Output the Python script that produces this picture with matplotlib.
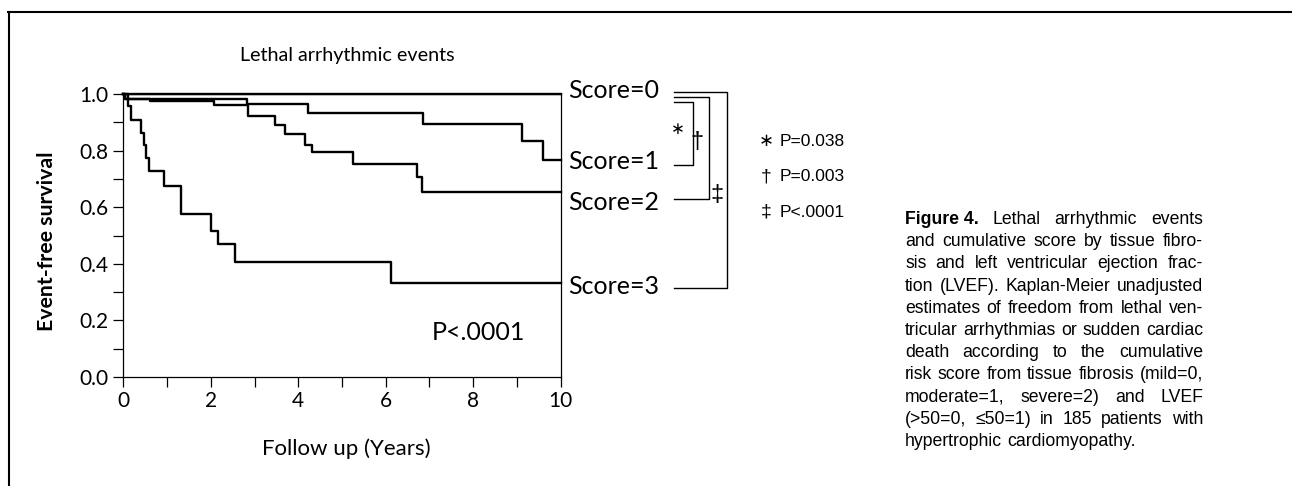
import matplotlib
matplotlib.use("Agg")
import matplotlib.pyplot as plt
from matplotlib import font_manager
from matplotlib.lines import Line2D

W, H = 1292, 486

# ==========================
# DATA
# ==========================
years_s0 = [0, 10]
surv_s0 = [1.0, 1.0]

years_s1 = [0, 0.05, 2.82, 4.23, 6.86, 9.11, 9.60, 10]
surv_s1 = [1.0, 0.983, 0.964, 0.932, 0.895, 0.833, 0.766, 0.766]

years_s2 = [0, 0.05, 0.61, 2.08, 2.86, 3.47, 3.70, 4.15, 4.31, 5.26, 6.71, 6.82, 10]
surv_s2 = [1.0, 0.983, 0.976, 0.961, 0.924, 0.891, 0.860, 0.821, 0.795, 0.751, 0.705, 0.652, 0.652]

years_s3 = [0, 0.11, 0.17, 0.40, 0.47, 0.53, 0.59, 0.93, 1.33, 2.00, 2.17, 2.55, 6.12, 10]
surv_s3 = [1.0, 0.956, 0.909, 0.862, 0.821, 0.774, 0.729, 0.674, 0.576, 0.515, 0.469, 0.407, 0.331, 0.331]

score_labels = ["Score=0", "Score=1", "Score=2", "Score=3"]
score_label_y = [0.985, 0.734, 0.59, 0.293]

pair_symbols = ["\u2217", "\u2020", "\u2021"]
pair_pvalues = ["P=0.038", "P=0.003", "P<.0001"]

caption_lines = [
    ["Figure 4.", "Lethal", "arrhythmic", "events"],
    "and cumulative score by tissue fibro-".split(),
    "sis and left ventricular ejection frac-".split(),
    "tion (LVEF). Kaplan-Meier unadjusted".split(),
    "estimates of freedom from lethal ven-".split(),
    "tricular arrhythmias or sudden cardiac".split(),
    "death according to the cumulative".split(),
    "risk score from tissue fibrosis (mild=0,".split(),
    "moderate=1, severe=2) and LVEF".split(),
    "(>50=0, \u226450=1) in 185 patients with".split(),
    "hypertrophic cardiomyopathy.".split(),
]


def has_font(name):
    try:
        font_manager.findfont(font_manager.FontProperties(family=name),
                              fallback_to_default=False)
        return True
    except ValueError:
        return False


if has_font("Liberation Sans Narrow"):
    CAP_FONT, CAP_SIZE = "Liberation Sans Narrow", 14
else:
    CAP_FONT, CAP_SIZE = "Liberation Sans", 12.7

CHART_FONT = "Lato"


def fx(px):
    return px / W


def fy(py):
    return 1 - py / H


fig = plt.figure(figsize=(W / 100, H / 100), dpi=100)

# frame of the figure panel (left + top edges)
fig.add_artist(Line2D([fx(8.5), fx(8.5)], [0, fy(12)], transform=fig.transFigure,
                      color="black", lw=1.5))
fig.add_artist(Line2D([fx(8), 1], [fy(12), fy(12)], transform=fig.transFigure,
                      color="black", lw=1.5))

ax = fig.add_axes([fx(123.3), fy(377), (560.7 - 123.3) / W, (377 - 94) / H])

for t, s in [(years_s0, surv_s0), (years_s1, surv_s1), (years_s2, surv_s2), (years_s3, surv_s3)]:
    ax.step(t, s, where="post", color="black", lw=1.7, clip_on=False)

ax.set_xlim(0, 10)
ax.set_ylim(0, 1.0)
ax.set_xticks(range(0, 11, 2))
ax.set_xticks(range(1, 10, 2), minor=True)
ax.set_yticks([0, 0.2, 0.4, 0.6, 0.8, 1.0])
ax.set_yticks([0.1, 0.3, 0.5, 0.7, 0.9], minor=True)
ax.set_yticklabels(["0.0", "0.2", "0.4", "0.6", "0.8", "1.0"])
ax.tick_params(which="both", direction="out", length=7, width=0.9, color="black")
ax.tick_params(axis="x", labelsize=15, pad=3)
ax.tick_params(axis="y", labelsize=15, pad=3.5)
for lab in ax.get_xticklabels() + ax.get_yticklabels():
    lab.set_fontfamily(CHART_FONT)
for sp in ax.spines.values():
    sp.set_linewidth(0.9)

# P value in the plot
ax.text(7.05, 0.131, "P<.0001", fontsize=18, family=CHART_FONT, va="baseline", ha="left")

# score labels at the right of the curves
for lab, yv in zip(score_labels, score_label_y):
    ax.text(10.18, yv, lab, fontsize=18, family=CHART_FONT, va="baseline", ha="left",
            clip_on=False)

# comparison brackets: (x of vertical, top y, bottom y)
bracket_x0 = 12.59
brackets = [(13.03, 0.972, 0.749), (13.39, 0.990, 0.629), (13.80, 1.008, 0.314)]
for xv, ytop, ybot in brackets:
    ax.plot([bracket_x0, xv, xv, bracket_x0], [ytop, ytop, ybot, ybot],
            color="black", lw=1.0, clip_on=False)
bracket_sym_pos = [(12.67, 0.873), (13.12, 0.83), (13.57, 0.643)]
bracket_sym_size = [12, 17, 17]
for sym, (xs, ys), fs in zip(pair_symbols, bracket_sym_pos, bracket_sym_size):
    ax.text(xs, ys, sym, fontsize=fs, family=["Liberation Sans", "DejaVu Sans"],
            ha="center", va="center", clip_on=False)

# titles / axis labels
fig.text(fx(347), fy(61), "Lethal arrhythmic events", fontsize=14.2, family=CHART_FONT,
         ha="center", va="baseline")
fig.text(fx(346), fy(455), "Follow up (Years)", fontsize=16, family=CHART_FONT,
         ha="center", va="baseline")
fig.text(fx(47), fy(241), "Event-free survival", fontsize=15.3, family=CHART_FONT,
         fontweight="bold", rotation=90, ha="center", va="center")

# p value key
key_baselines = [146, 181, 216.7]
key_sym_size = [13, 14, 14]
for sym, pv, yb, fs in zip(pair_symbols, pair_pvalues, key_baselines, key_sym_size):
    fig.text(fx(766), fy(yb), sym, fontsize=fs, family=["Liberation Sans", "DejaVu Sans"],
             ha="center", va="baseline")
    fig.text(fx(780), fy(yb), pv, fontsize=12.5, family="Liberation Sans", ha="left",
             va="baseline")

# ==========================
# CAPTION (justified)
# ==========================
renderer = fig.canvas.get_renderer()
cap_x0, cap_x1 = 905, 1203
cap_top = 224
cap_step = 22.2
for i, words in enumerate(caption_lines):
    yb = cap_top + i * cap_step
    items = []
    for j, w in enumerate(words):
        bold = (i == 0 and j == 0)
        t = fig.text(0, fy(yb), w, fontsize=CAP_SIZE, family=CAP_FONT,
                     fontweight="bold" if bold else "normal", ha="left", va="baseline")
        items.append((t, t.get_window_extent(renderer).width))
    total = sum(wd for _, wd in items)
    last = i == len(caption_lines) - 1
    if last:
        gap = CAP_SIZE * 0.28 * 100 / 72
    else:
        gap = max((cap_x1 - cap_x0 - total) / (len(items) - 1), 2.0)
    xpos = cap_x0
    for t, wd in items:
        t.set_x(fx(xpos))
        xpos += wd + gap

fig.savefig("out.png", dpi=100)
